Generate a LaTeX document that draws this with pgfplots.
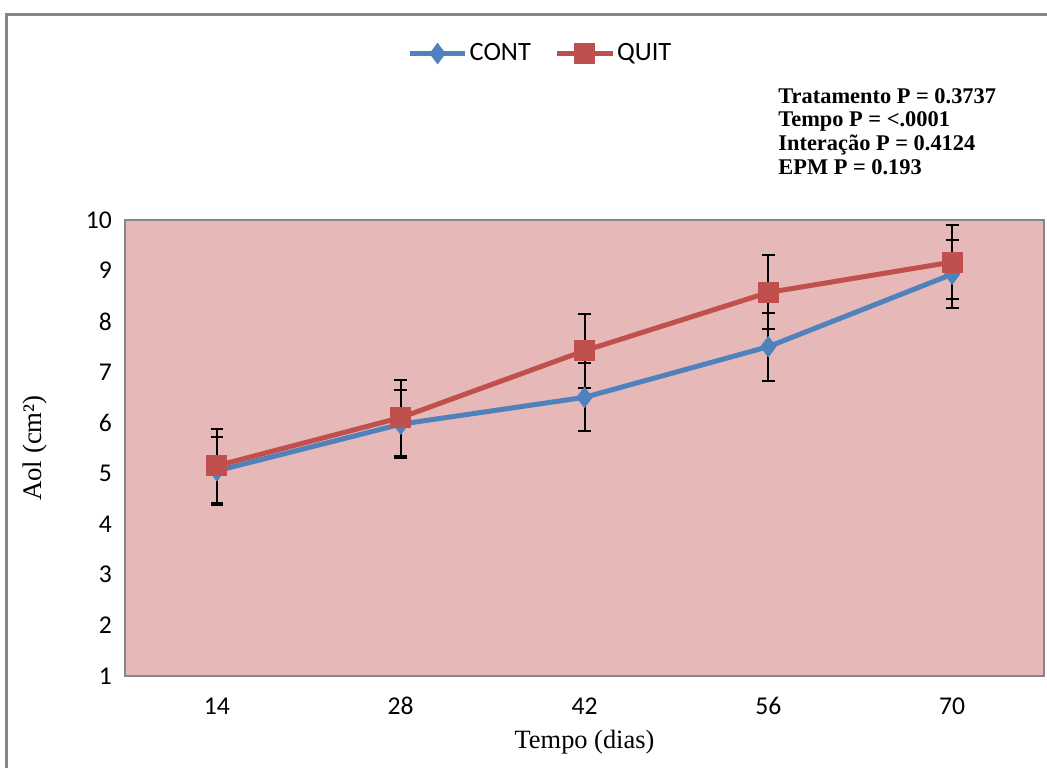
\documentclass[border=0pt]{standalone}
\usepackage{pgfplots}
\pgfplotsset{compat=1.18}
\usepackage{fontspec}
\setmainfont{Carlito}
\newfontfamily\timesf{Liberation Serif}
\definecolor{cblue}{RGB}{79,129,189}
\definecolor{cred}{RGB}{192,80,77}
\definecolor{pbg}{RGB}{230,185,184}
\definecolor{frame}{RGB}{134,134,134}
\begin{document}
\begin{tikzpicture}
\useasboundingbox (0pt,0pt) rectangle (523.5pt,384pt);
\draw[frame, line width=1.5pt] (3pt,0pt) -- (3pt,376.5pt) -- (523.5pt,376.5pt);
\begin{axis}[
  at={(62.5pt,46pt)}, anchor=south west,
  scale only axis, width=459.5pt, height=228pt,
  xmin=-0.5, xmax=4.5, ymin=1, ymax=10,
  xtick={0,1,2,3,4}, xticklabels={14,28,42,56,70},
  ytick={1,2,...,10},
  major tick length=0pt,
  axis background/.style={fill=pbg},
  axis line style={draw=frame, line width=0.9pt},
  tick label style={font=\fontsize{12.8}{14}\selectfont},
  /pgf/number format/assume math mode=true,
  xticklabel style={yshift=-7pt, text height=8.5pt, text depth=0pt},
  yticklabel style={xshift=-3pt},
  xlabel={\timesf\fontsize{13.2}{15}\selectfont Tempo (dias)},
  ylabel={\timesf\fontsize{13.4}{15}\selectfont Aol (cm²)},
  xlabel style={at={(axis description cs:0.5,-0.145)}, anchor=center},
  ylabel style={at={(axis description cs:-0.098,0.5)}, anchor=center},
  legend columns=2,
  legend style={draw=none, fill=none, at={(0.452,1.365)}, anchor=center,
    font=\fontsize{13.2}{15}\selectfont,
    nodes={inner sep=1pt},
    /tikz/every even column/.append style={column sep=11pt}},
  legend image code/.code={
    \draw[#1, mark=none] (0cm,0cm) -- (0.97cm,0cm);
    \draw[#1, only marks] plot coordinates {(0.485cm,0cm)};
  },
  clip=false,
]
\addplot[cblue, line width=2.5pt, mark=diamond*, mark size=5pt,
  mark options={solid, fill=cblue, draw=cblue, line width=0.5pt},
  error bars/.cd, y dir=both, y explicit,
  error bar style={black, line width=1pt},
  error mark options={black, line width=1pt, mark size=3.2pt, rotate=90}]
  coordinates {(0,5.05) +- (0,0.67) (1,5.97) +- (0,0.67) (2,6.50) +- (0,0.67) (3,7.50) +- (0,0.67) (4,8.93) +- (0,0.67)};
\addlegendentry{CONT}
\addplot[cred, line width=2.5pt, mark=square*, mark size=5pt,
  mark options={solid, fill=cred, draw=cred, line width=0.5pt},
  error bars/.cd, y dir=both, y explicit,
  error bar style={black, line width=1pt},
  error mark options={black, line width=1pt, mark size=3.2pt, rotate=90}]
  coordinates {(0,5.15) +- (0,0.73) (1,6.10) +- (0,0.75) (2,7.42) +- (0,0.73) (3,8.57) +- (0,0.73) (4,9.17) +- (0,0.73)};
\addlegendentry{QUIT}
\end{axis}
\node[anchor=north west, align=left, font=\timesf\bfseries\fontsize{11.2}{11.85}\selectfont, inner sep=0pt] at (389pt,340pt)
  {Tratamento P = 0.3737\\Tempo P = <.0001\\Interação P = 0.4124\\EPM P = 0.193};
\end{tikzpicture}
\end{document}
